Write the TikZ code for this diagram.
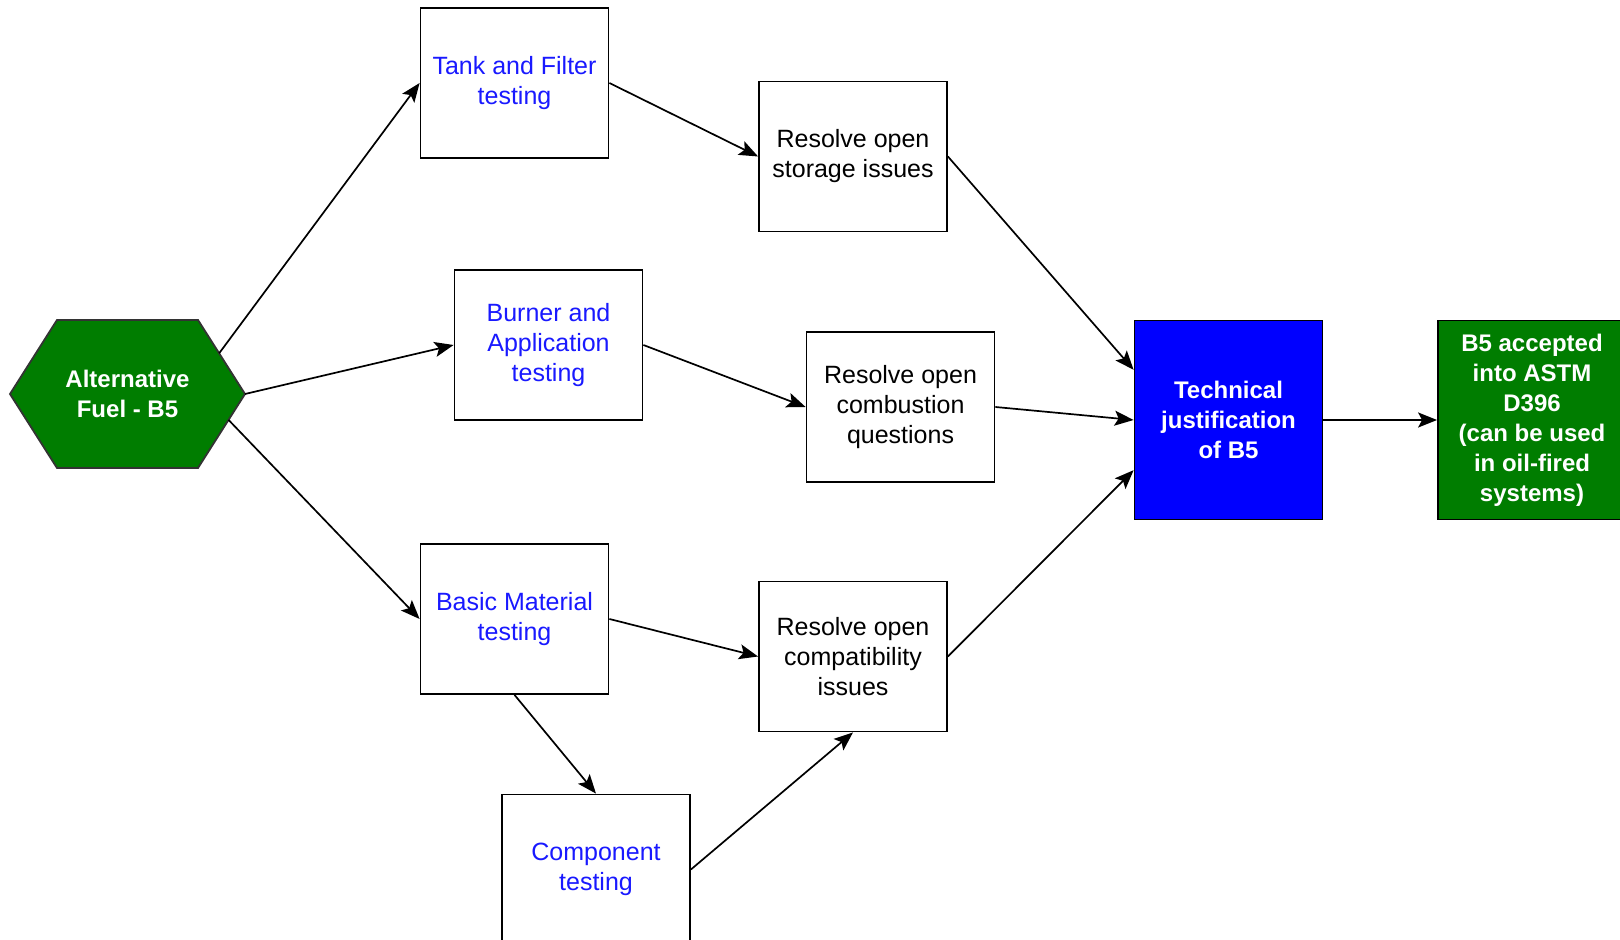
\documentclass[tikz,border=0pt]{standalone}
\usepackage{fontspec}
\setmainfont{Liberation Sans}
\usepackage{xcolor}
\usepackage{tikz}
\usetikzlibrary{calc, positioning, arrows.meta}

\definecolor{fuelgreen}{RGB}{0,125,0}
\definecolor{techblue}{RGB}{0,0,255}
\definecolor{testblue}{RGB}{25,25,255}

\begin{document}
\begin{tikzpicture}[x=0.5pt, y=-0.5pt]
	\tikzstyle{taskbox}=[draw=black, line width=0.9pt, minimum height=75pt, minimum width=94pt, fill=white, align=center, inner sep=0pt, font=\fontsize{12.5}{15}\selectfont]
	\tikzstyle{tasktest}=[taskbox, text=testblue]
	\tikzstyle{taskresolve}=[taskbox, text=black]
	\tikzstyle{taskresult}=[taskbox, minimum height=99.5pt, text=white, font=\bfseries\fontsize{12}{15}\selectfont]
	\tikzstyle{flow}=[-{Stealth[length=9.5pt, width=7.5pt, inset=2pt]}, line width=0.85pt]

	\useasboundingbox (0,0) rectangle (1620,940);

	% fuel hexagon
	\draw [fill=fuelgreen, draw=black!80, line width=0.9pt] (10,394) coordinate (hw) -- (57,320) -- (198,320) coordinate (hne) -- (245,394) coordinate (he) -- (198,468) coordinate (hse) -- (57,468) -- cycle;
	\node (fuel) at (127.5,394) [align=center, text=white, font=\bfseries\fontsize{12}{15}\selectfont] {Alternative\\Fuel - B5};

	% testing
	\node (tank) at (514.5,83) [tasktest] {Tank and Filter\\testing};
	\node (burner) at (548.5,345) [tasktest] {Burner and\\Application\\testing};
	\node (basic) at (514.5,619) [tasktest] {Basic Material\\testing};
	\node (component) at (596,869.5) [tasktest] {Component\\testing};

	% resolve
	\node (storage) at (853,156.5) [taskresolve] {Resolve open\\storage issues};
	\node (combustion) at (900.5,407) [taskresolve] {Resolve open\\combustion\\questions};
	\node (compat) at (853,656.5) [taskresolve] {Resolve open\\compatibility\\issues};

	% result
	\node (technical) at (1228.5,420) [taskresult, fill=techblue] {Technical\\justification\\of B5};
	\node (accepted) at (1532,420) [taskresult, fill=fuelgreen] {B5 accepted\\into ASTM\\D396\\(can be used\\in oil-fired\\systems)};

	\draw [flow] ($(hne)!0.45!(he)$) -- (tank.west);
	\draw [flow] (he) -- (burner.west);
	\draw [flow] ($(he)!0.35!(hse)$) -- (basic.west);

	\draw [flow] (tank.east) -- (storage.west);
	\draw [flow] (burner.east) -- (combustion.west);
	\draw [flow] (basic.east) -- (compat.west);
	\draw [flow] (basic.south) -- (component.north);
	\draw [flow] (component.east) -- (compat.south);

	\draw [flow] (storage.east) -- ($(technical.north west)!0.25!(technical.south west)$);
	\draw [flow] (combustion.east) -- (technical.west);
	\draw [flow] (compat.east) -- ($(technical.north west)!0.75!(technical.south west)$);
	\draw [flow] (technical.east) -- (accepted.west);
\end{tikzpicture}
\end{document}
